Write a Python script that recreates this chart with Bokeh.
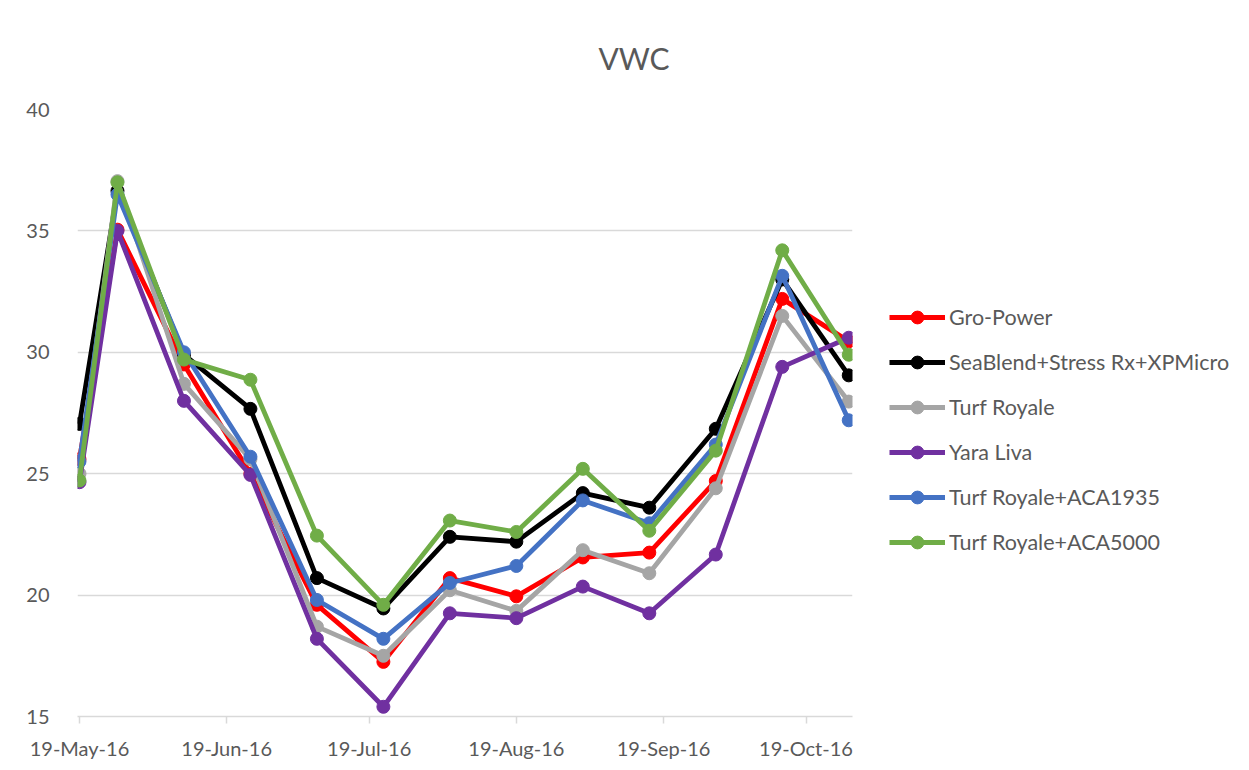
from datetime import datetime
from bokeh.plotting import figure
from bokeh.layouts import row
from bokeh.models import (ColumnDataSource, Legend, LegendItem, FixedTicker,
                          DatetimeTickFormatter, Range1d, Title)
from bokeh.embed import file_html
from bokeh.resources import INLINE

dates = ["2016-05-19", "2016-05-27", "2016-06-10", "2016-06-24", "2016-07-08",
         "2016-07-22", "2016-08-05", "2016-08-19", "2016-09-02", "2016-09-16",
         "2016-09-30", "2016-10-14", "2016-10-28"]

gro_power = [25.6, 35.05, 29.5, 25.0, 19.6, 17.25, 20.7, 19.95, 21.55, 21.75, 24.7, 32.2, 30.45]
seablend = [27.05, 36.65, 29.9, 27.67, 20.7, 19.45, 22.4, 22.2, 24.2, 23.6, 26.85, 33.0, 29.05]
turf_royale = [25.0, 37.05, 28.7, 25.6, 18.7, 17.5, 20.2, 19.35, 21.85, 20.9, 24.4, 31.5, 27.97]
yara_liva = [24.65, 35.0, 28.0, 24.95, 18.2, 15.4, 19.25, 19.05, 20.35, 19.25, 21.67, 29.4, 30.6]
aca1935 = [25.5, 36.5, 30.0, 25.7, 19.8, 18.2, 20.5, 21.2, 23.9, 22.96, 26.2, 33.15, 27.2]
aca5000 = [24.72, 37.0, 29.7, 28.87, 22.45, 19.6, 23.07, 22.6, 25.2, 22.65, 25.95, 34.2, 29.9]

series_names = ["Gro-Power", "SeaBlend+Stress Rx+XPMicro", "Turf Royale", "Yara Liva",
                "Turf Royale+ACA1935", "Turf Royale+ACA5000"]
series_values = [gro_power, seablend, turf_royale, yara_liva, aca1935, aca5000]
series_colors = ["#FF0000", "#000000", "#A5A5A5", "#7030A0", "#4472C4", "#70AD47"]

tick_dates = ["2016-05-19", "2016-06-19", "2016-07-19", "2016-08-19", "2016-09-19", "2016-10-19"]
y_ticks = [15, 20, 25, 30, 35, 40]
title_text = "VWC"

x = [datetime.strptime(d, "%Y-%m-%d") for d in dates]

FONT = "Lato"
TXT = "#595959"
GRID = "#d9d9d9"

H = 766
MAIN_W = 862
LEG_W = 378

p = figure(width=MAIN_W, height=H, x_axis_type="datetime", output_backend="svg",
           toolbar_location=None,
           x_range=Range1d(datetime(2016, 5, 18, 14), datetime(2016, 10, 28, 19)),
           y_range=Range1d(15, 40),
           min_border_left=77, min_border_right=MAIN_W - 852, min_border_top=109,
           min_border_bottom=H - 716)
p.outline_line_color = None
p.background_fill_color = "white"
p.border_fill_color = "white"

sources = []
for name, vals, col in zip(series_names, series_values, series_colors):
    src = ColumnDataSource(dict(x=x, y=vals))
    sources.append(src)
    p.line("x", "y", source=src, line_color=col, line_width=4.8, line_join="round")
    p.scatter("x", "y", source=src, size=13, fill_color=col, line_color=col)

# axes
tick_ms = [datetime.strptime(d, "%Y-%m-%d").timestamp() * 1000 for d in tick_dates]
xa = p.xaxis[0]
xa.ticker = FixedTicker(ticks=tick_ms)
xa.formatter = DatetimeTickFormatter(days="%d-%b-%y", months="%d-%b-%y", hours="%d-%b-%y")
xa.axis_line_color = GRID
xa.axis_line_width = 1.5
xa.major_tick_line_color = GRID
xa.major_tick_line_width = 1.5
xa.major_tick_out = 7
xa.major_tick_in = 0
xa.minor_tick_line_color = None
xa.major_label_text_font = FONT
xa.major_label_text_font_size = "20px"
xa.major_label_text_color = TXT
xa.major_label_standoff = 12

ya = p.yaxis[0]
ya.ticker = FixedTicker(ticks=y_ticks)
ya.axis_line_color = None
ya.major_tick_line_color = None
ya.minor_tick_line_color = None
ya.major_label_text_font = FONT
ya.major_label_text_font_size = "20px"
ya.major_label_text_color = TXT
ya.major_label_standoff = 22

p.xgrid.grid_line_color = None
p.ygrid.grid_line_color = GRID
p.ygrid.grid_line_width = 1.5
p.ygrid.ticker = FixedTicker(ticks=y_ticks)

p.add_layout(Title(text=title_text, align="left", offset=521, standoff=68,
                   text_font=FONT, text_font_size="30px", text_color=TXT,
                   text_font_style="normal"), "above")

# legend panel (separate figure so the legend is not clipped by the chart frame);
# its renderers reuse the series data, which lie outside this panel's ranges
lg = figure(width=LEG_W, height=H, output_backend="svg", toolbar_location=None,
            x_range=Range1d(0, 1), y_range=Range1d(0, 1),
            x_axis_location=None, y_axis_location=None,
            min_border_left=0, min_border_right=0, min_border_top=0, min_border_bottom=0)
lg.outline_line_color = None
lg.xgrid.visible = False
lg.ygrid.visible = False
lg.background_fill_color = "white"
lg.border_fill_color = "white"

items = []
for name, col, src in zip(series_names, series_colors, sources):
    ln = lg.line("x", "y", source=src, line_color=col, line_width=4.8)
    sc = lg.scatter("x", "y", source=src, size=13, fill_color=col, line_color=col)
    items.append(LegendItem(label=name, renderers=[ln, sc]))

legend = Legend(items=items, location=(889 - MAIN_W, 158), orientation="vertical",
                glyph_width=56, glyph_height=32, label_height=32, spacing=13,
                label_standoff=4, padding=0, margin=0,
                border_line_color=None, background_fill_alpha=0,
                label_text_font=FONT, label_text_font_size="21.5px",
                label_text_color=TXT, label_text_baseline="middle")
lg.add_layout(legend, "center")

layout = row(p, lg, spacing=0)
open("out.html", "w").write(file_html(layout, INLINE))
